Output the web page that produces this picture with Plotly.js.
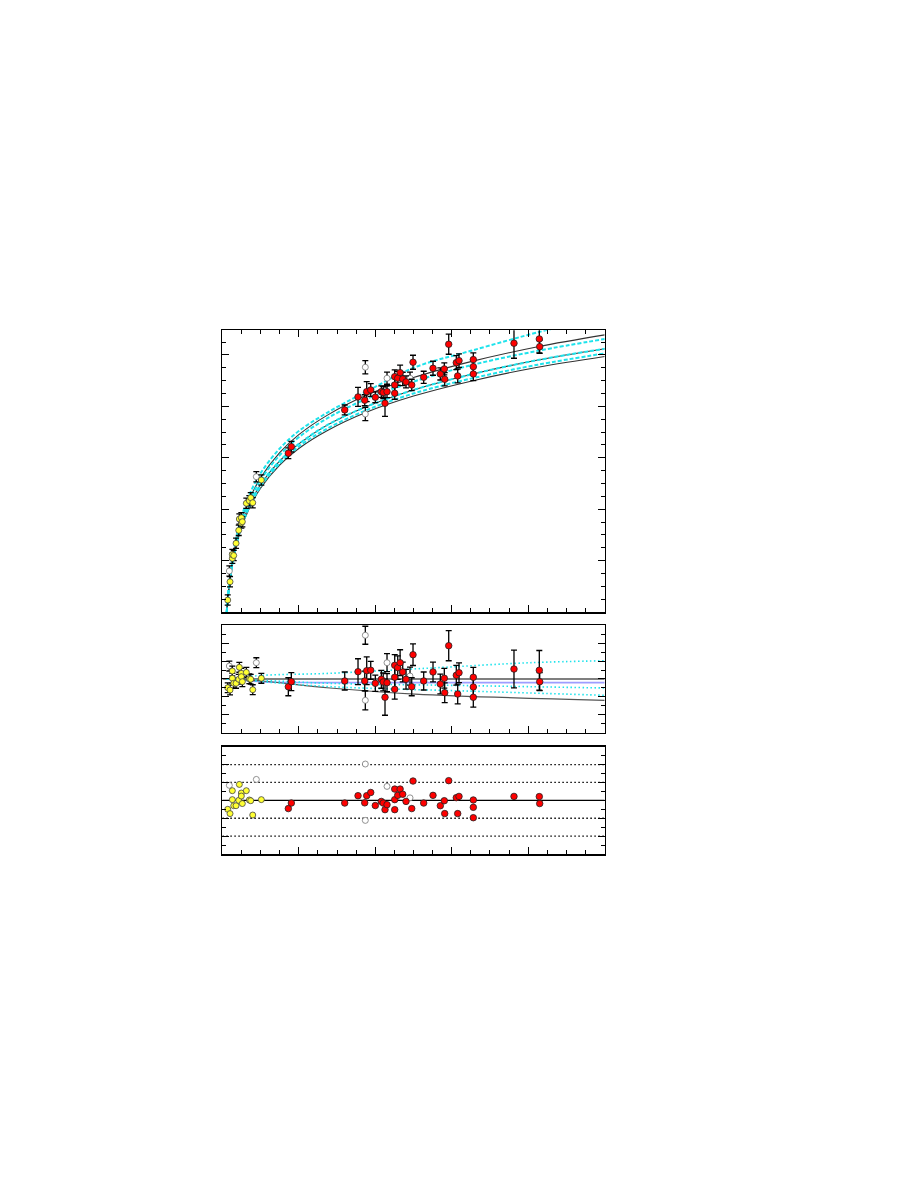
<!DOCTYPE html>
<html>
<head>
<meta charset="utf-8">
<script src="https://cdn.plot.ly/plotly-3.0.1.min.js"></script>
<style>html,body{margin:0;padding:0;background:#fff;}#chart{width:918px;height:1188px;}</style>
</head>
<body>
<div id="chart"></div>
<script>
// ---- model curves (main panel) ----
const curveX  = [0.23,0.3,0.4,0.55,0.75,1,1.4,2,3,4,5.5,7.5,10,13,16.5,20];
const curveA  = [0,0.32,0.67,1.05,1.43,1.78,2.18,2.61,3.10,3.45,3.83,4.21,4.56,4.87,5.16,5.39];
const curveB  = [0,0.32,0.66,1.04,1.41,1.75,2.15,2.57,3.05,3.40,3.77,4.14,4.48,4.80,5.08,5.31];
const curveC  = [0,0.30,0.63,1.00,1.35,1.68,2.07,2.48,2.94,3.27,3.64,3.99,4.32,4.62,4.90,5.12];
const curveD  = [0,0.30,0.62,0.98,1.33,1.66,2.03,2.44,2.89,3.22,3.57,3.92,4.25,4.54,4.81,5.03];
const curveE  = [0,0.30,0.62,0.97,1.32,1.64,2.01,2.41,2.86,3.18,3.53,3.88,4.20,4.49,4.76,4.97];
const curveFX = [0.23,0.3,0.4,0.55,0.75,1,1.4,2,3,4,5.5,7.5,10,13,16.5,17.5];
const curveF  = [0,0.34,0.70,1.10,1.49,1.85,2.27,2.70,3.18,3.52,3.88,4.28,4.75,5.08,5.44,5.53];

// ---- residual-panel model lines ----
const r1X = [0.23,2.08,5.63,10.9,16.1,20];   const r1Y = [0,0.4,0.63,1.22,1.81,2.03];
const r2X = [0.23,2.08,5.63,12.96,20];       const r2Y = [0,-0.15,-0.48,-0.74,-1.0];
const r3X = [0.23,2.08,5.63,12.96,20];       const r3Y = [0,-0.3,-0.85,-1.35,-1.81];
const gX  = [0.23,2.08,5.63,10.08,20];       const gY  = [0,-0.22,-1.0,-1.67,-2.37];
const bX  = [0.23,2,5,20];                   const bY  = [0,-0.3,-0.4,-0.4];
const zeroX = [0,20];  const zeroY = [0,0];
const sig1 = [1,1]; const sig1n = [-1,-1]; const sig2 = [2,2]; const sig2n = [-2,-2];

// ---- yellow data ----
const yelX    = [0.282,0.403,0.523,0.523,0.596,0.717,0.858,0.889,0.994,0.994,1.046,1.255,1.412,1.485,1.590,2.040];
const yelY    = [0.233,0.589,1.045,1.119,1.100,1.337,1.589,1.809,1.835,1.732,1.757,2.115,2.165,2.224,2.126,2.568];
const yelErr  = [0.10,0.10,0.10,0.10,0.10,0.10,0.10,0.10,0.10,0.10,0.10,0.10,0.10,0.10,0.10,0.10];
const yelRes  = [-0.97,-1.22,0.08,0.89,-0.48,-0.48,-0.03,1.30,0.63,0.26,-0.30,0.74,0.03,-0.03,-1.19,0.08];
const yelResErr = [0.55,0.55,0.55,0.55,0.55,0.55,0.55,0.55,0.55,0.55,0.55,0.55,0.55,0.55,0.55,0.55];
const yelNres = [-0.50,-0.74,0.04,0.54,-0.30,-0.30,0.00,0.89,0.41,0.24,-0.18,0.54,0.02,-0.02,-0.82,0.04];

// ---- open (rejected) data ----
const opnX    = [0.366,1.778,7.479,7.479,8.614,9.817];
const opnY    = [0.798,2.632,4.761,3.852,4.547,4.547];
const opnErr  = [0.10,0.10,0.13,0.13,0.117,0.117];
const opnRes  = [1.44,1.81,4.86,-2.37,1.81,0.33];
const opnResErr = [0.55,0.55,1.0,1.05,1.0,1.0];
const opnNres = [0.84,1.17,2.03,-1.12,0.78,0.14];

// ---- red data ----
const redX = [3.452,3.609,6.402,7.097,7.448,7.552,7.762,8.002,8.316,8.415,8.509,8.614,9.017,9.017,9.017,9.174,9.299,9.435,9.608,9.906,9.974,10.533,11.020,11.402,11.611,11.632,11.841,12.238,12.311,12.380,13.128,13.128,13.128,15.256,16.580,16.601];
const redY = [3.088,3.216,3.930,4.183,4.119,4.286,4.319,4.177,4.286,4.270,4.060,4.286,4.578,4.416,4.255,4.547,4.656,4.533,4.475,4.416,4.858,4.566,4.741,4.630,4.728,4.527,5.208,4.850,4.591,4.889,4.909,4.772,4.630,5.228,5.311,5.161];
const redErr = [0.103,0.103,0.097,0.185,0.107,0.195,0.123,0.103,0.111,0.117,0.253,0.117,0.130,0.156,0.117,0.136,0.146,0.130,0.117,0.111,0.136,0.117,0.136,0.117,0.117,0.130,0.195,0.136,0.136,0.130,0.130,0.130,0.130,0.292,0.272,0.130];
const redRes = [-0.86,-0.30,-0.22,0.81,-0.22,0.92,0.97,-0.48,-0.03,-0.33,-2.03,-0.41,1.52,0.19,-1.14,1.26,1.81,0.78,-0.03,-0.86,2.70,-0.22,0.78,-0.56,0.08,-1.52,3.70,0.41,-1.67,0.70,0.19,-0.89,-2.03,1.11,0.97,-0.30];
const redResErr = [1.0,1.0,1.0,1.44,1.1,1.55,1.0,0.9,1.0,1.0,2.0,1.0,1.2,1.44,1.1,1.3,1.44,1.1,1.1,1.0,1.2,1.0,1.1,1.1,1.1,1.1,1.67,1.1,1.1,1.1,1.1,1.1,1.1,2.1,2.2,1.0];
const redNres = [-0.46,-0.15,-0.15,0.26,-0.14,0.26,0.44,-0.29,-0.06,-0.15,-0.52,-0.24,0.63,0.04,-0.52,0.28,0.63,0.34,-0.06,-0.46,1.08,-0.15,0.28,-0.30,-0.02,-0.74,1.10,0.15,-0.74,0.22,0.02,-0.39,-0.97,0.22,0.21,-0.18];

const CYAN = '#1ee3ec';
const BLK = '#333333';
function line(x, y, xa, ya, color, width, dash, shape) {
  return {x:x, y:y, xaxis:xa, yaxis:ya, type:'scatter', mode:'lines',
          line:{color:color, width:width, dash:dash||'solid', shape:shape||'spline'}, hoverinfo:'skip'};
}
function pts(x, y, err, xa, ya, fill, lc, size) {
  const t = {x:x, y:y, xaxis:xa, yaxis:ya, type:'scatter', mode:'markers', cliponaxis:false,
    marker:{color:fill, size:size, line:{color:lc, width:0.8}}};
  if (err) t.error_y = {type:'data', array:err, visible:true, color:'black', thickness:1.3, width:3};
  return t;
}
const dashC = '4px,2px';
const dotFine = '1.5px,2.5px';
const traces = [
  line(curveX, curveA, 'x', 'y', BLK, 1.1),
  line(curveX, curveC, 'x', 'y', BLK, 1.1),
  line(curveX, curveE, 'x', 'y', BLK, 1.1),
  line(curveFX, curveF, 'x', 'y', CYAN, 2, dashC),
  line(curveX, curveB, 'x', 'y', CYAN, 2, dashC),
  line(curveX, curveC, 'x', 'y', CYAN, 2, dashC),
  line(curveX, curveD, 'x', 'y', CYAN, 2, dashC),
  pts(opnX, opnY, opnErr, 'x', 'y', 'white', '#777', 6),
  pts(yelX, yelY, yelErr, 'x', 'y', '#ffff33', '#444', 6),
  pts(redX, redY, redErr, 'x', 'y', '#ff0000', '#222', 6.5),

  line(zeroX, zeroY, 'x2', 'y2', 'black', 1.2, 'solid', 'linear'),
  line(bX, bY, 'x2', 'y2', '#9d9dff', 1.6),
  line(gX, gY, 'x2', 'y2', '#555555', 1.2),
  line(r1X, r1Y, 'x2', 'y2', CYAN, 1.6, dotFine),
  line(r2X, r2Y, 'x2', 'y2', CYAN, 1.6, dotFine),
  line(r3X, r3Y, 'x2', 'y2', CYAN, 1.6, dotFine),
  pts(opnX, opnRes, opnResErr, 'x2', 'y2', 'white', '#777', 6),
  pts(yelX, yelRes, yelResErr, 'x2', 'y2', '#ffff33', '#444', 6),
  pts(redX, redRes, redResErr, 'x2', 'y2', '#ff0000', '#222', 6.5),

  line(zeroX, zeroY, 'x3', 'y3', 'black', 1.2, 'solid', 'linear'),
  line(zeroX, sig1, 'x3', 'y3', 'black', 1.3, dotFine, 'linear'),
  line(zeroX, sig1n, 'x3', 'y3', 'black', 1.3, dotFine, 'linear'),
  line(zeroX, sig2, 'x3', 'y3', 'black', 1.3, dotFine, 'linear'),
  line(zeroX, sig2n, 'x3', 'y3', 'black', 1.3, dotFine, 'linear'),
  pts(opnX, opnNres, null, 'x3', 'y3', 'white', '#777', 6),
  pts(yelX, yelNres, null, 'x3', 'y3', '#ffff33', '#444', 6),
  pts(redX, redNres, null, 'x3', 'y3', '#ff0000', '#222', 6.5)
];

function xax(anchor, mirror) {
  return {domain:[0.2422,0.6587], range:[0,20], anchor:anchor, showticklabels:false,
    ticks:'inside', ticklen:7, tickwidth:1, tickcolor:'black', tick0:0, dtick:4,
    minor:{ticks:'inside', ticklen:4, dtick:1, tick0:0, tickcolor:'black', showgrid:false},
    showline:true, linecolor:'black', linewidth:1.5, mirror:mirror, showgrid:false, zeroline:false, fixedrange:true};
}
function yax(anchor, dom, rng, dt, mdt) {
  return {domain:dom, range:rng, anchor:anchor, showticklabels:false,
    ticks:'inside', ticklen:7, tickwidth:1, tickcolor:'black', tick0:0, dtick:dt,
    minor:{ticks:'inside', ticklen:4, dtick:mdt, tick0:0, tickcolor:'black', showgrid:false},
    showline:true, linecolor:'black', linewidth:1.5, mirror:'ticks', showgrid:false, zeroline:false, fixedrange:true};
}
const layout = {
  width:918, height:1188, margin:{l:0, r:0, t:0, b:0},
  paper_bgcolor:'white', plot_bgcolor:'white', showlegend:false,
  xaxis: xax('y', 'ticks'),
  yaxis: yax('x', [0.4848,0.7220], [0,5.48], 1, 0.25),
  xaxis2: xax('y2', true),
  yaxis2: yax('x2', [0.3830,0.4739], [-6,6], 2, 1),
  xaxis3: xax('y3', true),
  yaxis3: yax('x3', [0.2811,0.3715], [-3,3], 1, 0.5)
};
Plotly.newPlot('chart', traces, layout, {staticPlot:true, displayModeBar:false});
</script>
</body>
</html>
